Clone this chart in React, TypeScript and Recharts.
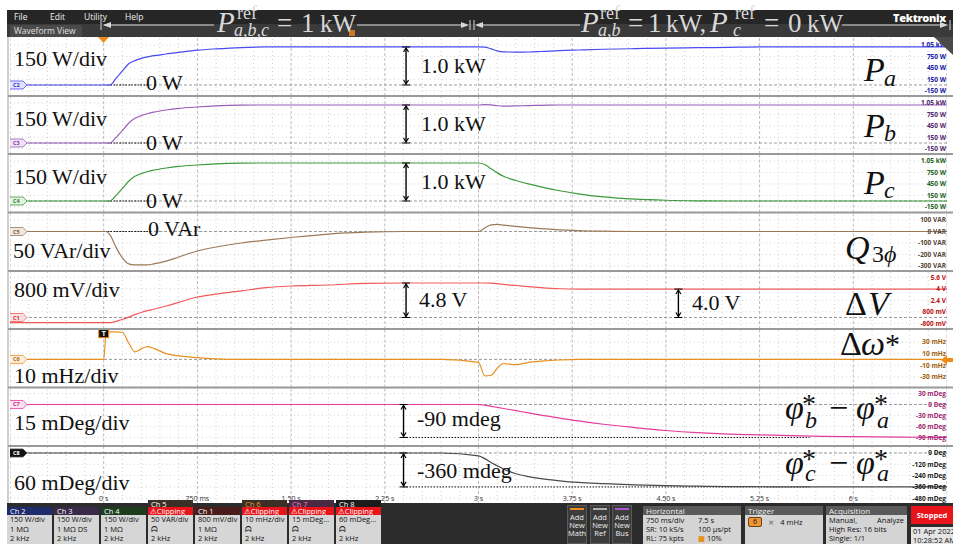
import React from "react";
import {
  LineChart,
  Line,
  XAxis,
  YAxis,
  CartesianGrid,
  ReferenceLine,
  ReferenceDot,
} from "recharts";

// time base shared by every channel (s)
const TIME_S = [
  -0.75, 0, 0.02, 0.05, 0.1, 0.15, 0.2, 0.25, 0.3, 0.35, 0.4, 0.5, 0.6, 0.75, 0.9, 1.1, 1.3, 1.5, 1.8, 2.1,
  2.4, 2.7, 3.0, 3.05, 3.1, 3.15, 3.2, 3.3, 3.4, 3.5, 3.65, 3.8, 4.0, 4.25, 4.5, 4.75, 5.0, 5.25, 5.5, 5.75,
  6.0, 6.4, 6.75,
];

// channel values, one per time sample
const PA_W = [
  0, 0, 0, 0, 180, 370, 560, 640, 700, 740, 770, 815, 860, 915, 950, 985, 1000, 1000, 1000, 1000,
  1000, 1000, 1000, 995, 950, 895, 870, 866, 868, 880, 905, 920, 940, 955, 970, 980, 990, 1000, 1000, 1000,
  1000, 1000, 1000,
];
const PB_W = [
  0, 0, 0, 0, 150, 330, 520, 650, 720, 770, 810, 868, 910, 947, 975, 995, 1000, 1000, 1000, 1000,
  1000, 1000, 1000, 1010, 1005, 980, 970, 975, 985, 990, 1000, 1000, 1000, 1000, 1000, 1000, 1000, 1000, 1000, 1000,
  1000, 1000, 1000,
];
const PC_W = [
  0, 0, 0, 0, 150, 330, 520, 650, 720, 770, 810, 868, 910, 947, 975, 995, 1000, 1000, 1000, 1000,
  1000, 1000, 1000, 960, 850, 740, 650, 540, 450, 370, 270, 190, 110, 50, 20, 6, 0, 0, 0, 0,
  0, 0, 0,
];
const Q3_VAR = [
  0, 0, 0, -30, -140, -230, -282, -290, -290, -290, -282, -258, -222, -170, -135, -100, -75, -52, -22, -6,
  0, 0, 0, 30, 58, 62, 55, 44, 34, 25, 15, 8, 3, 0, 0, 0, 0, 0, 0, 0,
  0, 0, 0,
];
const DV_V = [
  -0.72, -0.72, -0.72, -0.72, -0.55, -0.25, 0.05, 0.4, 0.7, 0.95, 1.15, 1.6, 2.1, 2.85, 3.25, 3.7, 4.15, 4.38, 4.52, 4.75,
  4.8, 4.8, 4.8, 4.8, 4.77, 4.7, 4.6, 4.45, 4.3, 4.15, 4.0, 3.96, 3.96, 3.96, 3.96, 3.96, 3.96, 3.96, 3.96, 3.96,
  3.96, 3.96, 3.96,
];
const DW_MHZ = [
  0, 0, 46, 47, 47, 46, 28, 13, 18, 22, 19, 10, 6, 3, 1, 0, 0, 0, 0, 0,
  0, 0, -5, -28, -27, -15, -7, -9, -5, -3, -1, 0, 0, 0, 0, 0, 0, 0, 0, 0,
  0, 0, 0,
];
const PHB_MDEG = [
  0, 0, 0, 0, 0, 0, 0, 0, 0, 0, 0, 0, 0, 0, 0, 0, 0, 0, 0, 0,
  0, 0, 0, -2, -5, -8, -11, -17, -23, -29, -37, -45, -54, -63, -71, -77, -81, -83, -85, -87,
  -88, -89, -90,
];
const PHC_MDEG = [
  0, 0, 0, 0, 0, 0, 0, 0, 0, 0, 0, 0, 0, 0, 0, 0, 0, 0, 0, 0,
  0, 0, -30, -60, -100, -135, -170, -220, -250, -272, -295, -312, -325, -338, -347, -352, -356, -358, -360, -360,
  -360, -360, -360,
];

const TIME_TICKS = [0, 0.75, 1.5, 2.25, 3, 3.75, 4.5, 5.25, 6];
const TIME_LABELS = ["0 s", "750 ms", "1.50 s", "2.25 s", "3 s", "3.75 s", "4.50 s", "5.25 s", "6 s"];

const PA_TICKS = [1050, 750, 450, 150, -150];
const PA_LABELS = ["1.05 kW", "750 W", "450 W", "150 W", "-150 W"];
const Q_TICKS = [100, 0, -100, -200, -300];
const Q_LABELS = ["100 VAR", "0 VAR", "-100 VAR", "-200 VAR", "-300 VAR"];
const DV_TICKS = [5.6, 4, 2.4, 0.8, -0.8];
const DV_LABELS = ["5.6 V", "4 V", "2.4 V", "800 mV", "-800 mV"];
const DW_TICKS = [30, 10, -10, -30];
const DW_LABELS = ["30 mHz", "10 mHz", "-10 mHz", "-30 mHz"];
const PHB_TICKS = [30, 0, -30, -60, -90];
const PHB_LABELS = ["30 mDeg", "0 Deg", "-30 mDeg", "-60 mDeg", "-90 mDeg"];
const PHC_TICKS = [0, -120, -240, -360, -480];
const PHC_LABELS = ["0 Deg", "-120 mDeg", "-240 mDeg", "-360 mDeg", "-480 mDeg"];

const SERIF = "'Liberation Serif', 'DejaVu Serif', serif";
const SANS = "'Open Sans', 'DejaVu Sans', sans-serif";

const PLOT_X = 10;
const PLOT_W = 937;

// grid: major every 0.75 s, minor every 0.15 s
const MAJOR_T: number[] = [];
const MINOR_T: number[] = [];
for (let k = 0; k <= 50; k++) {
  const t = Math.round((-0.75 + 0.15 * k) * 100) / 100;
  (k % 5 === 0 ? MAJOR_T : MINOR_T).push(t);
}

type Lane = {
  tag: string;
  values: number[];
  color: string;
  tickColor: string;
  tagFill: string;
  tagText: string;
  top: number;
  height: number;
  domain: [number, number];
  ticks: number[];
  labels: string[];
  arrows: { t: number; from: number; to: number }[];
  dotted: { t1: number; t2: number; y: number }[];
};

const LANES: Lane[] = [
  {
    tag: "C2", values: PA_W, color: "#4a4af2", tickColor: "#2020a6", tagFill: "#e2e2ff", tagText: "#3030c0",
    top: 37, height: 59, domain: [-290, 1262], ticks: PA_TICKS, labels: PA_LABELS,
    arrows: [{ t: 2.42, from: 0, to: 1000 }], dotted: [{ t1: 0.03, t2: 0.36, y: 0 }],
  },
  {
    tag: "C3", values: PB_W, color: "#9a5fba", tickColor: "#55266f", tagFill: "#efe2f6", tagText: "#7a3e9a",
    top: 96, height: 58, domain: [-289, 1236], ticks: PA_TICKS, labels: PA_LABELS,
    arrows: [{ t: 2.42, from: 0, to: 1000 }], dotted: [{ t1: 0.03, t2: 0.36, y: 0 }],
  },
  {
    tag: "C4", values: PC_W, color: "#3c9b3c", tickColor: "#1f641f", tagFill: "#e2f3e2", tagText: "#2e7a2e",
    top: 154, height: 58.5, domain: [-302, 1236], ticks: PA_TICKS, labels: PA_LABELS,
    arrows: [{ t: 2.42, from: 0, to: 1000 }], dotted: [{ t1: 0.03, t2: 0.36, y: 0 }],
  },
  {
    tag: "C5", values: Q3_VAR, color: "#9c7a58", tickColor: "#57473a", tagFill: "#f0e8de", tagText: "#7a6048",
    top: 212.5, height: 58.5, domain: [-348, 161], ticks: Q_TICKS, labels: Q_LABELS,
    arrows: [], dotted: [{ t1: 0.03, t2: 0.36, y: 0 }],
  },
  {
    tag: "C1", values: DV_V, color: "#f25a5a", tickColor: "#c01010", tagFill: "#fde2e2", tagText: "#d03030",
    top: 271, height: 58, domain: [-1.6, 6.47], ticks: DV_TICKS, labels: DV_LABELS,
    arrows: [{ t: 2.42, from: 0, to: 4.8 }, { t: 4.6, from: 0, to: 3.96 }], dotted: [],
  },
  {
    tag: "C6", values: DW_MHZ, color: "#e8901e", tickColor: "#a0600c", tagFill: "#fdeedc", tagText: "#b06a10",
    top: 329, height: 58.5, domain: [-48, 52], ticks: DW_TICKS, labels: DW_LABELS,
    arrows: [], dotted: [],
  },
  {
    tag: "C7", values: PHB_MDEG, color: "#e43c9c", tickColor: "#a01f70", tagFill: "#fde2f2", tagText: "#c02a82",
    top: 387.5, height: 58.5, domain: [-114.7, 45], ticks: PHB_TICKS, labels: PHB_LABELS,
    arrows: [{ t: 2.4, from: 0, to: -90 }], dotted: [{ t1: 2.4, t2: 5.65, y: -90 }],
  },
  {
    tag: "C8", values: PHC_MDEG, color: "#4a4a4a", tickColor: "#1a1a1a", tagFill: "#111", tagText: "#fff",
    top: 446, height: 58, domain: [-541, 74], ticks: PHC_TICKS, labels: PHC_LABELS,
    arrows: [{ t: 2.4, from: 0, to: -360 }], dotted: [{ t1: 2.4, t2: 5.65, y: -360 }],
  },
];

const DimArrow = (p: any) => {
  const x = p.x1;
  const a = Math.min(p.y1, p.y2);
  const b = Math.max(p.y1, p.y2);
  return (
    <g stroke="#000" fill="none">
      <line x1={x} y1={a + 1} x2={x} y2={b - 1} strokeWidth={1.4} />
      <line x1={x - 4} y1={a} x2={x + 4} y2={a} strokeWidth={1} />
      <line x1={x - 4} y1={b} x2={x + 4} y2={b} strokeWidth={1} />
      <path d={`M${x - 2.5},${a + 5} L${x},${a + 1} L${x + 2.5},${a + 5}`} strokeWidth={1.2} />
      <path d={`M${x - 2.5},${b - 5} L${x},${b - 1} L${x + 2.5},${b - 5}`} strokeWidth={1.2} />
    </g>
  );
};

function ChannelTag({ cx, cy, lane }: { cx: number; cy: number; lane: Lane }) {
  const x = cx - 1;
  return (
    <g>
      <path
        d={`M${x},${cy - 4} L${x + 14},${cy - 4} L${x + 18},${cy} L${x + 14},${cy + 4} L${x},${cy + 4} Z`}
        fill={lane.tagFill}
        stroke={lane.color}
        strokeWidth={0.8}
      />
      <text x={x + 4} y={cy + 2} fontSize={5.5} fontWeight={700} fill={lane.tagText} fontFamily={SANS}>
        {lane.tag}
      </text>
    </g>
  );
}

// value labels on the right edge, drawn as plain text so they never wrap
function RightTick(props: any) {
  const { x, y, payload, lane } = props;
  return (
    <text
      x={x}
      y={y}
      dy={2.3}
      textAnchor="end"
      fontSize={6.5}
      fontWeight={700}
      fill={lane.tickColor}
      fontFamily={SANS}
    >
      {lane.labels[lane.ticks.indexOf(payload.value)]}
    </text>
  );
}

function TimeTick(props: any) {
  const { x, y, payload } = props;
  return (
    <text x={x} y={y} dy={-3} textAnchor="middle" fontSize={7} fill="#333" fontFamily={SANS}>
      {TIME_LABELS[TIME_TICKS.indexOf(payload.value)]}
    </text>
  );
}

function LaneChart({ lane, showTime }: { lane: Lane; showTime: boolean }) {
  const rows = TIME_S.map((t, i) => ({ t, v: lane.values[i] }));
  return (
    <div style={{ position: "absolute", left: PLOT_X, top: lane.top }}>
      <LineChart width={PLOT_W} height={lane.height} data={rows} margin={{ top: 0, right: 0, bottom: 0, left: 0 }}>
        <XAxis
          dataKey="t"
          type="number"
          domain={[-0.75, 6.75]}
          allowDataOverflow
          ticks={TIME_TICKS}
          interval={0}
          hide={!showTime}
          mirror
          axisLine={false}
          tickLine={false}
          tickSize={0}
          tickMargin={0}
          tick={<TimeTick />}
        />
        <YAxis
          type="number"
          domain={lane.domain}
          allowDataOverflow
          ticks={lane.ticks}
          interval={0}
          orientation="right"
          mirror
          axisLine={false}
          tickLine={false}
          tickSize={0}
          tickMargin={1}
          tick={(p: any) => <RightTick {...p} lane={lane} />}
        />
        <CartesianGrid vertical={false} stroke="#d4d4d4" strokeDasharray="1 3" />
        {MINOR_T.map((t) => (
          <ReferenceLine key={`mi${t}`} x={t} stroke="#cfcfcf" strokeDasharray="1 3" />
        ))}
        {MAJOR_T.map((t) => (
          <ReferenceLine key={`ma${t}`} x={t} stroke="#bcbcbc" strokeDasharray="3 2" />
        ))}
        <ReferenceLine y={0} stroke="#9c9c9c" strokeDasharray="3 2" />
        {lane.dotted.map((d, i) => (
          <ReferenceLine
            key={`d${i}`}
            segment={[{ x: d.t1, y: d.y }, { x: d.t2, y: d.y }]}
            stroke="#111"
            strokeDasharray="1.5 1.5"
            strokeWidth={1}
          />
        ))}
        <Line
          dataKey="v"
          type="monotone"
          stroke={lane.color}
          strokeWidth={1.2}
          dot={false}
          isAnimationActive={false}
        />
        {lane.arrows.map((a, i) => (
          <ReferenceLine key={`a${i}`} segment={[{ x: a.t, y: a.from }, { x: a.t, y: a.to }]} shape={DimArrow} />
        ))}
        <ReferenceDot x={-0.75} y={0} r={0} shape={(p: any) => <ChannelTag cx={p.cx} cy={p.cy} lane={lane} />} />
        {lane.tag === "C6" && (
          <ReferenceDot
            x={0}
            y={44}
            r={0}
            shape={(p: any) => (
              <g>
                <rect x={p.cx - 5} y={p.cy - 5} width={10} height={9} fill="#111" stroke="#f08a1a" strokeWidth={1} />
                <text x={p.cx} y={p.cy + 2.5} fontSize={7} fontWeight={700} fill="#fff" textAnchor="middle" fontFamily={SANS}>
                  T
                </text>
              </g>
            )}
          />
        )}
      </LineChart>
    </div>
  );
}

const T = (p: { x: number; y: number; s?: number; i?: boolean; fill?: string; children: React.ReactNode }) => (
  <text
    x={p.x}
    y={p.y}
    fontSize={p.s ?? 22}
    fontStyle={p.i ? "italic" : "normal"}
    fill={p.fill ?? "#111"}
    fontFamily={SERIF}
  >
    {p.children}
  </text>
);

function Header() {
  return (
    <div style={{ position: "absolute", left: 7, top: 10, width: 946, height: 27, background: "#262626" }}>
      <div style={{ position: "absolute", left: 0, top: 14, width: 946, height: 13, background: "#3a3a3a" }} />
      <div
        style={{
          position: "absolute", left: 3, top: 15, width: 68, height: 12, background: "#4a4a4a",
          color: "#e0e0e0", fontSize: 8.5, lineHeight: "12px", paddingLeft: 4, fontFamily: SANS,
        }}
      >
        Waveform View
      </div>
      {[["File", 7], ["Edit", 43], ["Utility", 77], ["Help", 118]].map(([t, x]) => (
        <div
          key={t as string}
          style={{ position: "absolute", left: x as number, top: 1, color: "#f0f0f0", fontSize: 8.5, fontFamily: SANS }}
        >
          {t}
        </div>
      ))}
      <div
        style={{
          position: "absolute", left: 886, top: 0, color: "#fff", fontSize: 11, fontWeight: 800,
          fontFamily: SANS, letterSpacing: -0.3,
        }}
      >
        Tektronix
      </div>
    </div>
  );
}

function Overlay() {
  const seps = [96, 154, 212.5, 271, 329, 387.5, 446];
  const hc = "#d8d8d8";
  return (
    <svg width={953} height={544} style={{ position: "absolute", left: 0, top: 0, pointerEvents: "none" }}>
      {/* header annotations */}
      <g stroke={hc} strokeWidth={1} fill={hc}>
        <line x1={101} y1={20} x2={101} y2={30} />
        <line x1={104} y1={25} x2={214} y2={25} />
        <path d="M103,25 l8,-3 v6 z" stroke="none" />
        <line x1={357} y1={25} x2={466} y2={25} />
        <path d="M469,25 l-8,-3 v6 z" stroke="none" />
        <line x1={470} y1={20} x2={470} y2={30} />
        <line x1={474} y1={20} x2={474} y2={30} />
        <line x1={477} y1={25} x2={580} y2={25} />
        <path d="M475,25 l8,-3 v6 z" stroke="none" />
        <line x1={842} y1={25} x2={945} y2={25} />
        <path d="M948,25 l-8,-3 v6 z" stroke="none" />
        <line x1={950} y1={20} x2={950} y2={30} />
      </g>
      <rect x={349} y={30} width={6} height={6} fill="#f08a1a" opacity={0.8} />
      <T x={217} y={32} s={29} i fill={hc}>P</T>
      <T x={237} y={19} s={18} fill={hc}>ref</T>
      <T x={234} y={36} s={18} i fill={hc}>a,b,c</T>
      <T x={277} y={32} s={27} fill={hc}>=</T>
      <T x={301} y={32} s={27} fill={hc}>1</T>
      <T x={320} y={32} s={25} fill={hc}>kW</T>
      <T x={581} y={32} s={29} i fill={hc}>P</T>
      <T x={600} y={19} s={18} fill={hc}>ref</T>
      <T x={598} y={36} s={18} i fill={hc}>a,b</T>
      <T x={628} y={32} s={27} fill={hc}>=</T>
      <T x={648} y={32} s={27} fill={hc}>1</T>
      <T x={666} y={32} s={25} fill={hc}>kW,</T>
      <T x={710} y={32} s={29} i fill={hc}>P</T>
      <T x={735} y={19} s={18} fill={hc}>ref</T>
      <T x={733} y={36} s={18} i fill={hc}>c</T>
      <T x={764} y={32} s={27} fill={hc}>=</T>
      <T x={788} y={32} s={27} fill={hc}>0</T>
      <T x={807} y={32} s={25} fill={hc}>kW</T>

      {/* frame */}
      {seps.map((y) => (
        <line key={y} x1={8} y1={y} x2={953} y2={y} stroke="#9a9a9a" strokeWidth={2} />
      ))}
      <line x1={8} y1={37} x2={8} y2={503} stroke="#a0a0a0" strokeWidth={1} />
      <path d="M98,37 L109,37 L103.5,43 Z" fill="#f08a1a" />
      <path d="M934,37 L953,37 L953,55 Z" fill="#4a4a4a" />
      <path d="M941,360 L947,355 L947,358 L953,358 L953,362 L947,362 L947,365 Z" fill="#f08a1a" />

      {/* per-div labels */}
      <T x={14} y={66}>150 W/div</T>
      <T x={146} y={90}>0 W</T>
      <T x={14} y={126}>150 W/div</T>
      <T x={146} y={150}>0 W</T>
      <T x={14} y={184}>150 W/div</T>
      <T x={146} y={208}>0 W</T>
      <T x={148} y={236}>0 VAr</T>
      <T x={13} y={258}>50 VAr/div</T>
      <T x={14} y={297}>800 mV/div</T>
      <T x={14} y={383}>10 mHz/div</T>
      <T x={14} y={430}>15 mDeg/div</T>
      <T x={14} y={490}>60 mDeg/div</T>

      {/* measurement labels */}
      <T x={421} y={73}>1.0 kW</T>
      <T x={421} y={131}>1.0 kW</T>
      <T x={421} y={189}>1.0 kW</T>
      <T x={419} y={307}>4.8 V</T>
      <T x={692} y={310}>4.0 V</T>
      <T x={417} y={426}>-90 mdeg</T>
      <T x={417} y={478}>-360 mdeg</T>

      {/* channel names */}
      <T x={864} y={81} s={34} i>P</T>
      <T x={884} y={86} s={24} i>a</T>
      <T x={864} y={137} s={34} i>P</T>
      <T x={884} y={141} s={24} i>b</T>
      <T x={864} y={194} s={34} i>P</T>
      <T x={884} y={198} s={24} i>c</T>
      <T x={845} y={259} s={34} i>Q</T>
      <T x={872} y={262} s={24}>3</T>
      <T x={884} y={262} s={24} i>ϕ</T>
      <T x={845} y={315} s={34}>Δ</T>
      <T x={868} y={315} s={34} i>V</T>
      <T x={840} y={355} s={34}>Δ</T>
      <T x={861} y={355} s={34} i>ω</T>
      <T x={885} y={354} s={30}>*</T>
      <T x={785} y={419} s={34} i>φ</T>
      <T x={802} y={413} s={28}>*</T>
      <T x={805} y={428} s={24} i>b</T>
      <T x={829} y={419} s={34}>−</T>
      <T x={856} y={419} s={34} i>φ</T>
      <T x={874} y={413} s={28}>*</T>
      <T x={877} y={428} s={24} i>a</T>
      <T x={785} y={474} s={34} i>φ</T>
      <T x={802} y={468} s={28}>*</T>
      <T x={805} y={481} s={24} i>c</T>
      <T x={829} y={474} s={34}>−</T>
      <T x={856} y={474} s={34} i>φ</T>
      <T x={874} y={468} s={28}>*</T>
      <T x={877} y={481} s={24} i>a</T>
    </svg>
  );
}

const CH_BADGES = [
  { name: "Ch 2", head: "#1e2c6c", headText: "#fff", clip: false, lines: ["150 W/div", "1 MΩ", "2 kHz"] },
  { name: "Ch 3", head: "#3a2a4a", headText: "#fff", clip: false, lines: ["150 W/div", "1 MΩ  DS", "2 kHz"] },
  { name: "Ch 4", head: "#1d3d1f", headText: "#fff", clip: false, lines: ["150 W/div", "1 MΩ", "2 kHz"] },
  { name: "Ch 5", head: "#3a3026", headText: "#fff", clip: true, lines: ["50 VAR/div", "ᗣ", "2 kHz"] },
  { name: "Ch 1", head: "#4a1c1c", headText: "#fff", clip: false, lines: ["800 mV/div", "1 MΩ", "2 kHz"] },
  { name: "Ch 6", head: "#3a3026", headText: "#ee9430", clip: true, lines: ["10 mHz/div", "ᗣ", "2 kHz"] },
  { name: "Ch 7", head: "#4a2a42", headText: "#f27ac6", clip: true, lines: ["15 mDeg...", "ᗣ", "2 kHz"] },
  { name: "Ch 8", head: "#1c1c1c", headText: "#fff", clip: true, lines: ["60 mDeg...", "ᗣ", "2 kHz"] },
];

function Box({ x, w, title, children }: { x: number; w: number; title: string; children: React.ReactNode }) {
  return (
    <div style={{ position: "absolute", left: x, top: 3, width: w, height: 38 }}>
      <div style={{ height: 9, background: "#5a5a5a", color: "#f0f0f0", fontSize: 8, lineHeight: "9px", paddingLeft: 3 }}>
        {title}
      </div>
      <div
        style={{
          height: 29, background: "#d4d4d4", color: "#111", fontSize: 7.5, lineHeight: "9px",
          padding: "1px 3px", boxSizing: "border-box", whiteSpace: "nowrap", overflow: "hidden",
        }}
      >
        {children}
      </div>
    </div>
  );
}

function BottomPanel() {
  return (
    <div style={{ position: "absolute", left: 7, top: 503, width: 946, height: 41, background: "#2c2c2c", fontFamily: SANS }}>
      {CH_BADGES.map((b, i) => {
        const x = i * 47;
        const headTop = b.clip ? -3 : 4;
        return (
          <div key={b.name} style={{ position: "absolute", left: x, top: 0, width: 45, height: 41 }}>
            <div
              style={{
                position: "absolute", left: 0, top: headTop, width: 45, height: 8, background: b.head,
                color: b.headText, fontSize: 7.5, lineHeight: "8px", paddingLeft: 3, boxSizing: "border-box",
              }}
            >
              {b.name}
            </div>
            {b.clip && (
              <div
                style={{
                  position: "absolute", left: 0, top: 4, width: 45, height: 8, background: "#e8141a",
                  color: "#fff", fontSize: 7.5, lineHeight: "8px", paddingLeft: 2, boxSizing: "border-box",
                }}
              >
                ⚠Clipping
              </div>
            )}
            <div
              style={{
                position: "absolute", left: 0, top: 12, width: 45, height: 29, background: "#d6d6d6",
                color: "#111", fontSize: 7.5, lineHeight: "9.5px", paddingLeft: 3, boxSizing: "border-box",
                whiteSpace: "nowrap", overflow: "hidden",
              }}
            >
              {b.lines.map((l, j) => (
                <div key={j}>{l}</div>
              ))}
            </div>
          </div>
        );
      })}
      {[
        { x: 560, bar: "#ee8a20", t: "Math" },
        { x: 583, bar: "#b0b0b0", t: "Ref" },
        { x: 605, bar: "#a855d8", t: "Bus" },
      ].map((b) => (
        <div
          key={b.t}
          style={{
            position: "absolute", left: b.x, top: 2, width: 20, height: 39, background: "#3c3c3c",
            border: "1px solid #5a5a5a", boxSizing: "border-box", color: "#f0f0f0", fontSize: 7.5,
            lineHeight: "8px", textAlign: "center",
          }}
        >
          <div style={{ height: 2, background: b.bar, margin: "2px 2px 3px" }} />
          <div>Add</div>
          <div>New</div>
          <div>{b.t}</div>
        </div>
      ))}
      <Box x={636} w={98} title="Horizontal">
        <div style={{ display: "flex" }}><span style={{ width: 52 }}>750 ms/div</span><span>7.5 s</span></div>
        <div style={{ display: "flex" }}><span style={{ width: 52 }}>SR: 10 kS/s</span><span>100 µs/pt</span></div>
        <div style={{ display: "flex" }}><span style={{ width: 52 }}>RL: 75 kpts</span><span><span style={{ color: "#e8901e" }}>■</span> 10%</span></div>
      </Box>
      <Box x={738} w={78} title="Trigger">
        <div style={{ display: "flex", alignItems: "center", gap: 6, marginTop: 1 }}>
          <span style={{ background: "#ee9430", border: "1px solid #6a4010", borderRadius: 2, padding: "0 4px", fontSize: 7, lineHeight: "8px" }}>6</span>
          <span style={{ color: "#555" }}>⨯</span>
          <span>4 mHz</span>
        </div>
      </Box>
      <Box x={819} w={81} title="Acquisition">
        <div style={{ display: "flex", justifyContent: "space-between" }}><span>Manual,</span><span>Analyze</span></div>
        <div>High Res: 16 bits</div>
        <div>Single: 1/1</div>
      </Box>
      <div
        style={{
          position: "absolute", left: 904, top: 3, width: 42, height: 18, background: "#e8141a", color: "#fff",
          fontSize: 7.5, fontWeight: 700, lineHeight: "18px", textAlign: "center",
        }}
      >
        Stopped
      </div>
      <div
        style={{
          position: "absolute", left: 904, top: 24, width: 42, height: 17, background: "#e4e4e4", color: "#111",
          fontSize: 7.5, lineHeight: "8.5px", paddingLeft: 2, whiteSpace: "nowrap", overflow: "hidden",
        }}
      >
        <div>01 Apr 2022</div>
        <div>10:28:52 AM</div>
      </div>
    </div>
  );
}

export default function App() {
  return (
    <div
      style={{
        position: "absolute", left: 0, top: 0, width: 953, height: 544, overflow: "hidden",
        background: "#fff", fontFamily: SANS,
      }}
    >
      <Header />
      {LANES.map((lane, i) => (
        <LaneChart key={lane.tag} lane={lane} showTime={i === LANES.length - 1} />
      ))}
      <Overlay />
      <BottomPanel />
    </div>
  );
}
